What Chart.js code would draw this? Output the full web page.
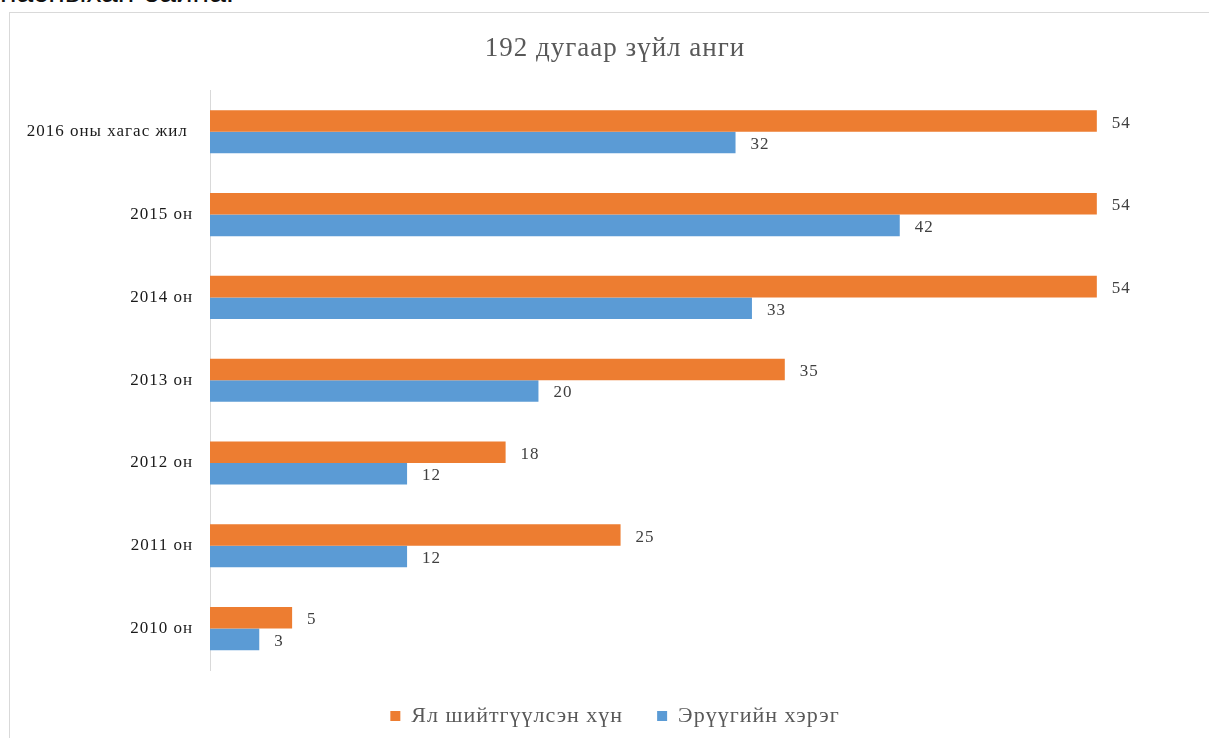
<!DOCTYPE html>
<html><head><meta charset="utf-8">
<script src="https://cdn.jsdelivr.net/npm/chart.js@4"></script>
<style>
html,body{margin:0;padding:0;width:1209px;height:738px;overflow:hidden;background:#fff;position:relative;}
#top{position:absolute;left:0;top:-23px;font-family:"Liberation Sans",Arial,sans-serif;font-size:30px;line-height:1;color:#111;white-space:nowrap;}
#box{position:absolute;left:9px;top:12px;width:1400px;height:900px;border:1px solid #d9d9d9;box-sizing:border-box;}
#wrap{position:absolute;left:10px;top:13px;width:1221px;height:724px;}
</style></head>
<body>
<div id="top">насныхан байна.</div>
<div id="box"></div>
<div id="wrap"><canvas id="c"></canvas></div>
<script>
const categories = ["2016 оны хагас жил ", "2015 он", "2014 он", "2013 он", "2012 он", "2011 он", "2010 он"];
const seriesNames = ["Ял шийтгүүлсэн хүн", "Эрүүгийн хэрэг"];
const punished = [54, 54, 54, 35, 18, 25, 5];
const cases = [32, 42, 33, 20, 12, 12, 3];
const titleText = "192 дугаар зүйл анги";

const SERIF = '"Liberation Serif", "Times New Roman", serif';

const spacing = {
  id: 'spacing',
  beforeUpdate(chart) { chart.ctx.letterSpacing = '1px'; },
  beforeLayout(chart) { chart.ctx.letterSpacing = '1px'; },
  beforeDraw(chart) { chart.ctx.letterSpacing = '1px'; }
};

const valueLabels = {
  id: 'valueLabels',
  afterDatasetsDraw(chart) {
    const ctx = chart.ctx;
    ctx.save();
    ctx.font = '17px ' + SERIF;
    ctx.fillStyle = '#404040';
    ctx.textAlign = 'left';
    ctx.textBaseline = 'middle';
    chart.data.datasets.forEach((ds, i) => {
      const meta = chart.getDatasetMeta(i);
      meta.data.forEach((bar, j) => {
        ctx.fillText(String(ds.data[j]), bar.x + 15, bar.y + 2);
      });
    });
    ctx.restore();
  }
};

new Chart(document.getElementById('c'), {
  type: 'bar',
  data: {
    labels: categories,
    datasets: [
      { label: seriesNames[0], data: punished, backgroundColor: '#ED7D31', categoryPercentage: 0.52, barPercentage: 1.0 },
      { label: seriesNames[1], data: cases, backgroundColor: '#5B9BD5', categoryPercentage: 0.52, barPercentage: 1.0 }
    ]
  },
  options: {
    indexAxis: 'y',
    responsive: true,
    maintainAspectRatio: false,
    animation: false,
    layout: { padding: { left: 0, right: 11, top: 0, bottom: 0 } },
    scales: {
      x: {
        min: 0, max: 61.5,
        display: true,
        ticks: { display: false },
        grid: { display: false },
        border: { display: false },
        afterFit(s) { s.height = 1; }
      },
      y: {
        grid: { display: false },
        border: { display: true, color: '#d9d9d9', width: 1 },
        ticks: { color: '#1a1a1a', padding: 9, font: { family: SERIF, size: 17 } },
        afterFit(s) { s.width = 200; }
      }
    },
    plugins: {
      title: {
        display: true, text: titleText, color: '#595959',
        font: { family: SERIF, size: 27, weight: 'normal' },
        padding: { top: 20, bottom: 25 }
      },
      legend: {
        position: 'bottom',
        labels: {
          color: '#595959', boxWidth: 10, boxHeight: 10, padding: 34,
          font: { family: SERIF, size: 22 }
        }
      },
      tooltip: { enabled: false }
    }
  },
  plugins: [spacing, valueLabels]
});
</script>
</body></html>
